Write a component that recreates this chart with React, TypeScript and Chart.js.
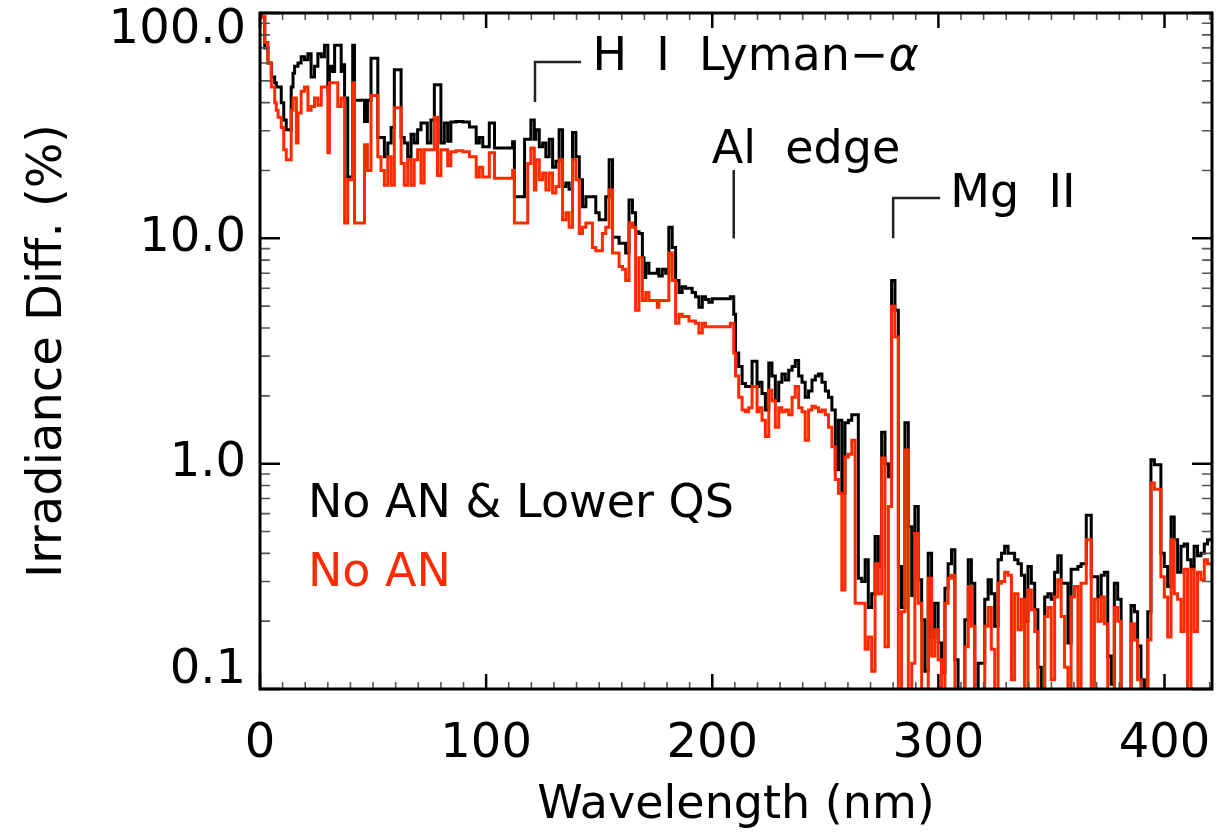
import React, { useEffect, useRef } from "react";
import { Chart, registerables } from "chart.js";

Chart.register(...registerables);

// Wavelength bin starts (nm)
const wavelengths = [
  0, 0.6, 2.1, 3.5, 5, 6.5, 7.2, 8, 9.4, 10.5,
  11.6, 13.8, 14.6, 15.3, 16.1, 16.8, 18.2, 19.7, 21.2, 22.6,
  24.1, 25.6, 27.1, 28.5, 30, 30.7, 31.8, 33, 34.4, 35.9,
  36.6, 37.4, 38.8, 41, 41.8, 44.5, 46.2, 47.5, 49.1, 50.6,
  52.1, 53.5, 55, 56.5, 58, 59.4, 60.9, 62.4, 63.8, 65.3,
  66.8, 68.2, 69.7, 71.2, 72.6, 74, 75.6, 77.1, 78.5, 80,
  81.5, 83, 84.4,
  86.7, 89.7, 92.6, 95.6, 97, 98.5, 101.4, 103.7, 107.3, 110.3,
  111.7, 112.5, 117, 118.4, 119.8, 121.3, 122, 123.5, 125, 126.4,
  127.9, 129.4, 130.9, 132.3, 133.8, 135.3, 136.7, 138.2, 139.7, 141.2,
  142.6, 144.1, 145.6, 147, 148.5, 150, 151.4, 152.9, 154.4, 155.9,
  157.3, 158.8, 160.3, 161.7,
  163.2, 164.7, 166.1, 167.6, 169.1, 169.8, 170.6, 172, 175, 175.7,
  176.4, 177.9, 179.4, 180.8, 182.3, 183.8, 185.3, 186.7, 188.2, 189.7,
  191.1, 192.6, 194.1, 195.6, 197, 198.5, 200, 207.3, 208, 209.5,
  210.3, 211.7, 213.2, 214.7, 216.1, 217.6, 219.8, 220.6, 222, 223.5,
  225, 226.4, 227.9, 229.4, 230.8, 232.3, 233.8, 235.3, 236.7, 238.2,
  239.7, 241.1, 242.6, 244.1, 245.6, 247, 248.5, 250, 251.4, 252.9,
  254.4,
  255.8, 257.3, 258.7, 260.2, 261.7, 263.2, 264.6, 266.1, 267.6, 269,
  270.5, 272, 273.4, 274.9, 276.4, 277.9, 279.3, 280.8, 282.3, 283.7,
  285.2, 286.7, 288.2, 289.6, 291.1, 292.6, 294, 295.5, 297, 298.4,
  299.9, 301.4, 302.9, 304.3, 305.8, 307.3, 308.7, 310.2, 311.7, 313.2,
  314.6, 316.1, 317.6, 319, 320.5, 322, 323.4, 324.9, 326.4, 327.9,
  329.3, 330.8, 332.3, 333.7,
  335.2, 336.7, 338.1, 339.6, 341.1, 342.6, 344, 345.5, 347, 348.4,
  349.9, 351.4, 352.8, 354.3, 355.8, 357.3, 358.7, 360.2, 361.7, 363.1,
  365.4, 367.6, 369, 370.5, 372, 373.4, 374.9, 376.4, 377.8, 379.3,
  380.8, 383.7, 385.2, 386.7, 388.1, 389.6, 391.1, 392.6, 394, 395.5,
  397, 398.4, 399.9, 401.4, 402.9, 404.3, 405.8, 407.3, 408.7, 410.2,
  411.7, 413.1, 414.6, 416.1, 417.6, 419, 420.5, 421,
];

// "No AN & Lower QS" (black), irradiance difference in %
const noAnLowerQs = [
  100, 96, 70, 60, 52, 49, 47, 47, 40, 33.5,
  30.3, 47, 54, 58, 58, 60, 64, 62, 66, 52,
  58, 66, 64, 72, 45, 58, 55, 72, 72, 55,
  59, 42, 18.7, 72, 41, 41, 33, 41, 63, 63,
  28, 28, 23, 26.5, 31, 56, 56, 28, 26.5, 23,
  29, 26.5, 30.3, 32.5, 32.5, 26.5, 33.5, 48, 48, 26.5,
  32.5, 27, 32.8,
  33, 32.8, 31.2, 26.5, 28, 25.5, 32.5, 25.2, 25.2, 25.2,
  26.8, 15.3, 27.5, 27.5, 33.5, 27.5, 30.3, 25.5, 26.5, 23,
  27.5, 20.7, 22, 30.3, 17, 17.6, 16.5, 29.5, 23, 18.2,
  13.8, 15.3, 15.3, 15.3, 13, 12.1, 12.1, 15.3, 22.3, 10.1,
  10.1, 9.5, 9.5, 8.6,
  14.8, 13, 10.7, 10.5, 8.2, 6.7, 7.75, 7, 7, 7.3,
  6.8, 7.3, 7, 11.2, 9.1, 6.5, 5.75, 6.1, 6, 6,
  5.75, 5.5, 4.95, 5.5, 5.35, 5.2, 5.4, 5.4, 5.5, 4.6,
  3.1, 2.7, 2.27, 2.2, 2.2, 2.85, 2.2, 2.3, 2.05, 1.73,
  2.8, 2.45, 1.9, 2.3, 2.5, 2.35, 2.6, 2.7, 2.87, 2.45,
  2.3, 1.97, 2.1, 2.35, 2.45, 2.5, 2.3, 2.1, 1.97, 1.73,
  0.94,
  1.56, 0.74, 1.52, 1.56, 1.65, 1.65, 0.31, 0.3, 0.375, 0.23,
  0.265, 0.475, 0.35, 1.38, 1, 0.875, 6.5, 4.8, 0.35, 0.23,
  1.52, 0.525, 0.26, 0.645, 0.305, 0.203, 0.12, 0.4, 0.17, 0.24,
  0.16, 0.118, 0.28, 0.36, 0.415, 0.135, 0.09, 0.09, 0.203, 0.375,
  0.295, 0.09, 0.13, 0.13, 0.25, 0.305, 0.265, 0.19, 0.375, 0.4,
  0.43, 0.4, 0.4, 0.375,
  0.36, 0.32, 0.2, 0.35, 0.295, 0.225, 0.125, 0.09, 0.256, 0.265,
  0.25, 0.33, 0.39, 0.295, 0.295, 0.16, 0.34, 0.34, 0.35, 0.36,
  0.59, 0.315, 0.315, 0.256, 0.32, 0.33, 0.14, 0.105, 0.295, 0.25,
  0.09, 0.09, 0.235, 0.22, 0.155, 0.11, 0.09, 0.22, 1.04, 0.99,
  0.99, 0.4, 0.35, 0.285, 0.58, 0.46, 0.33, 0.43, 0.44, 0.375,
  0.35, 0.43, 0.39, 0.4, 0.44, 0.46, 0.46, 0.46,
];

// "No AN" (red), irradiance difference in %
const noAn = [
  100, 96, 74, 60, 47, 40, 37, 34.5, 31, 24.7,
  22.3, 37, 42, 42, 26.5, 36, 45, 47, 37, 38.5,
  42, 39, 47, 47, 24, 49, 49, 49, 38.5, 42,
  42, 11.7, 18.2, 49, 11.7, 11.7, 26, 20, 43, 43,
  23, 20, 17.2, 23, 17.2, 38, 38, 21.5, 17.2, 22.3,
  17.2, 22.3, 24.7, 17.6, 24.7, 24.7, 24.7, 34.5, 19, 24.7,
  24.7, 21, 24.2,
  24.5, 24.2, 23, 18.7, 20.7, 18.7, 24, 18.5, 18.5, 18.5,
  20, 11.7, 11.7, 21.5, 25.2, 16.4, 22.3, 18.2, 19.5, 16.4,
  19.5, 15.9, 17, 22.3, 12.1, 13, 11.2, 22.3, 18.2, 10.5,
  11.2, 11.7, 11.7, 9.1, 8.8, 8.8, 10.5, 11.2, 16.4, 8.6,
  8.6, 7.5, 7.3, 6.5,
  11.7, 11.2, 4.8, 8.2, 5.3, 5.3, 5.75, 5.3, 5.3, 4.95,
  5.3, 5.3, 5.3, 8.6, 6.5, 4.2, 4.6, 4.5, 4.5, 4.3,
  4.3, 4.2, 3.8, 4.2, 4.05, 4.05, 4.05, 4.05, 4.2, 3.1,
  2.45, 1.97, 1.73, 1.7, 1.77, 2.2, 1.7, 1.77, 1.56, 1.32,
  2.12, 1.9, 1.45, 1.77, 1.7, 1.73, 1.65, 1.97, 2.2, 1.77,
  1.7, 1.27, 1.73, 1.8, 1.77, 1.7, 1.73, 1.65, 1.45, 1.19,
  0.85,
  0.74, 0.275, 1.07, 1.1, 1.27, 0.24, 0.24, 0.24, 0.15, 0.17,
  0.12, 0.36, 0.265, 1.06, 0.154, 0.645, 5, 3.65, 0.09, 0.22,
  1.15, 0.09, 0.13, 0.49, 0.24, 0.09, 0.09, 0.31, 0.14, 0.183,
  0.135, 0.09, 0.24, 0.31, 0.32, 0.09, 0.09, 0.09, 0.154, 0.285,
  0.19, 0.09, 0.09, 0.09, 0.19, 0.23, 0.15, 0.09, 0.295, 0.3,
  0.33, 0.32, 0.11, 0.265,
  0.183, 0.25, 0.09, 0.275, 0.225, 0.18, 0.09, 0.09, 0.21, 0.23,
  0.11, 0.256, 0.305, 0.21, 0.125, 0.09, 0.256, 0.285, 0.09, 0.295,
  0.46, 0.09, 0.25, 0.2, 0.256, 0.195, 0.09, 0.09, 0.23, 0.2,
  0.09, 0.09, 0.195, 0.165, 0.11, 0.09, 0.09, 0.165, 0.82, 0.77,
  0.77, 0.315, 0.256, 0.17, 0.46, 0.265, 0.25, 0.18, 0.34, 0.1,
  0.34, 0.18, 0.33, 0.305, 0.375, 0.36, 0.36, 0.36,
];

const seriesNames = ["No AN & Lower QS", "No AN"];
const xTickValues = [0, 100, 200, 300, 400];
const xTickLabels = ["0", "100", "200", "300", "400"];
const yTickValues = [0.1, 1, 10, 100];
const yTickLabels = ["0.1", "1.0", "10.0", "100.0"];
const xTitle = "Wavelength (nm)";
const yTitle = "Irradiance Diff. (%)";

const FONT = '"DejaVu Sans", "Liberation Sans", sans-serif';
const BLACK = "#000000";
const RED = "#ff2a00";

// annotation anchors in data units (wavelength, percent)
const lymanLabel = { text: "H  I  Lyman\u2212", greek: "\u03b1", lam: 121.6, low: 40.3, high: 60.6, barEnd: 142, textLam: 147, textBase: 55.8 };
const alLabel = { text: "Al  edge", lam: 209.5, low: 10, high: 20.1, textLam: 199.8, textBase: 21.6 };
const mgLabel = { text: "Mg  II", lam: 280, low: 10, high: 15.1, barEnd: 300.8, textLam: 305.3, textBase: 13.8 };
const legendAnchor = { lam: 21.2, base1: 0.582, base2: 0.287 };

const overlayPlugin = {
  id: "overlay",
  afterDatasetsDraw(chart: any) {
    const { ctx, chartArea: a, scales } = chart;
    const xs = scales.x;
    const ys = scales.y;
    ctx.save();
    ctx.lineCap = "butt";
    // x ticks (bottom & top), inward
    for (let v = 0; v <= 420; v += 10) {
      const px = xs.getPixelForValue(v);
      const major = v % 100 === 0;
      const len = major ? 15 : 7;
      ctx.lineWidth = major ? 2.5 : 1.6;
      ctx.strokeStyle = major ? "#000" : "#555";
      ctx.beginPath();
      ctx.moveTo(px, a.bottom);
      ctx.lineTo(px, a.bottom - len);
      ctx.moveTo(px, a.top);
      ctx.lineTo(px, a.top + len);
      ctx.stroke();
    }
    // y ticks (left & right), inward
    for (let d = -1; d <= 2; d++) {
      for (let m = 1; m <= 9; m++) {
        const v = m * Math.pow(10, d);
        if (v > 100.0001) break;
        const py = ys.getPixelForValue(v);
        const major = m === 1;
        const len = major ? 20 : 10;
        ctx.lineWidth = major ? 2.5 : 1.6;
        ctx.strokeStyle = major ? "#000" : "#555";
        ctx.beginPath();
        ctx.moveTo(a.left, py);
        ctx.lineTo(a.left + len, py);
        ctx.moveTo(a.right, py);
        ctx.lineTo(a.right - len, py);
        ctx.stroke();
      }
    }
    // frame
    ctx.lineWidth = 3;
    ctx.strokeStyle = "#000";
    ctx.strokeRect(a.left, a.top, a.right - a.left, a.bottom - a.top);

    // y tick labels (kept inside the frame's vertical extent)
    ctx.font = `48px ${FONT}`;
    ctx.fillStyle = "#000";
    ctx.textAlign = "right";
    ctx.textBaseline = "middle";
    yTickValues.forEach((v, i) => {
      const py = ys.getPixelForValue(v);
      const cy = Math.min(Math.max(py, a.top + 18), a.bottom - 18);
      ctx.fillText(yTickLabels[i], a.left - 14, cy);
    });

    // annotations
    ctx.font = `46px ${FONT}`;
    ctx.textBaseline = "alphabetic";
    ctx.textAlign = "left";
    ctx.fillStyle = "#000";
    ctx.strokeStyle = "#222";
    ctx.lineWidth = 2.5;

    // Lyman alpha bracket
    const lx = xs.getPixelForValue(lymanLabel.lam);
    const lyLow = ys.getPixelForValue(lymanLabel.low);
    const lyHigh = ys.getPixelForValue(lymanLabel.high);
    ctx.beginPath();
    ctx.moveTo(lx, lyLow);
    ctx.lineTo(lx, lyHigh);
    ctx.lineTo(xs.getPixelForValue(lymanLabel.barEnd), lyHigh);
    ctx.stroke();
    const ltx = xs.getPixelForValue(lymanLabel.textLam);
    const lty = ys.getPixelForValue(lymanLabel.textBase);
    ctx.fillText(lymanLabel.text, ltx, lty);
    const w = ctx.measureText(lymanLabel.text).width;
    ctx.font = `italic 46px ${FONT}`;
    ctx.fillText(lymanLabel.greek, ltx + w, lty);
    ctx.font = `46px ${FONT}`;

    // Al edge
    const ax = xs.getPixelForValue(alLabel.lam);
    ctx.beginPath();
    ctx.moveTo(ax, ys.getPixelForValue(alLabel.low));
    ctx.lineTo(ax, ys.getPixelForValue(alLabel.high));
    ctx.stroke();
    ctx.fillText(alLabel.text, xs.getPixelForValue(alLabel.textLam), ys.getPixelForValue(alLabel.textBase));

    // Mg II bracket
    const mx = xs.getPixelForValue(mgLabel.lam);
    const myHigh = ys.getPixelForValue(mgLabel.high);
    ctx.beginPath();
    ctx.moveTo(mx, ys.getPixelForValue(mgLabel.low));
    ctx.lineTo(mx, myHigh);
    ctx.lineTo(xs.getPixelForValue(mgLabel.barEnd), myHigh);
    ctx.stroke();
    ctx.fillText(mgLabel.text, xs.getPixelForValue(mgLabel.textLam), ys.getPixelForValue(mgLabel.textBase));

    // legend text
    const gx = xs.getPixelForValue(legendAnchor.lam);
    ctx.fillStyle = BLACK;
    ctx.fillText(seriesNames[0], gx, ys.getPixelForValue(legendAnchor.base1));
    ctx.fillStyle = RED;
    ctx.fillText(seriesNames[1], gx, ys.getPixelForValue(legendAnchor.base2));

    ctx.restore();
  },
};

function labelFor(values: number[], labels: string[], v: number): string {
  const i = values.findIndex((t) => Math.abs(t - v) < 1e-6 * Math.max(1, Math.abs(t)));
  return i >= 0 ? labels[i] : "";
}

export default function App() {
  const ref = useRef<HTMLCanvasElement | null>(null);

  useEffect(() => {
    document.body.style.margin = "0";
    const canvas = ref.current;
    if (!canvas) return;
    const toPoints = (ys: number[]) => wavelengths.map((x, i) => ({ x, y: ys[i] }));
    const chart = new Chart(canvas, {
      type: "line",
      data: {
        datasets: [
          {
            label: seriesNames[1],
            data: toPoints(noAn),
            borderColor: RED,
            borderWidth: 3,
            pointRadius: 0,
            stepped: true,
            fill: false,
          },
          {
            label: seriesNames[0],
            data: toPoints(noAnLowerQs),
            borderColor: BLACK,
            borderWidth: 3,
            pointRadius: 0,
            stepped: true,
            fill: false,
          },
        ],
      },
      options: {
        animation: false,
        responsive: false,
        devicePixelRatio: 1,
        parsing: false as any,
        layout: { padding: { top: 13, right: 11, left: 0, bottom: 0 } },
        plugins: { legend: { display: false }, tooltip: { enabled: false } },
        scales: {
          x: {
            type: "linear",
            min: 0,
            max: 421,
            afterBuildTicks: (s: any) => {
              s.ticks = xTickValues.map((value) => ({ value }));
            },
            afterFit: (s: any) => {
              s.height = 146;
              s.paddingLeft = 0;
              s.paddingRight = 0;
            },
            grid: { display: false, drawTicks: false },
            border: { display: false },
            ticks: {
              autoSkip: false,
              maxRotation: 0,
              padding: 27,
              color: "#000",
              font: { family: FONT, size: 48 },
              callback: (v: any) => labelFor(xTickValues, xTickLabels, Number(v)),
            },
            title: {
              display: true,
              text: xTitle,
              color: "#000",
              font: { family: FONT, size: 46 },
              padding: { top: 0, bottom: 1 },
            },
          },
          y: {
            type: "logarithmic",
            min: 0.1,
            max: 100,
            afterBuildTicks: (s: any) => {
              s.ticks = yTickValues.map((value) => ({ value }));
            },
            afterFit: (s: any) => {
              s.width = 260;
              s.paddingTop = 0;
              s.paddingBottom = 0;
            },
            grid: { display: false, drawTicks: false },
            border: { display: false },
            ticks: { display: false },
            title: {
              display: true,
              text: yTitle,
              color: "#000",
              font: { family: FONT, size: 48 },
              padding: { top: 20, bottom: 0 },
            },
          },
        },
      },
      plugins: [overlayPlugin],
    });
    return () => chart.destroy();
  }, []);

  return (
    <div style={{ width: 1223, height: 835 }}>
      <canvas ref={ref} width={1223} height={835} style={{ display: "block" }} />
    </div>
  );
}
